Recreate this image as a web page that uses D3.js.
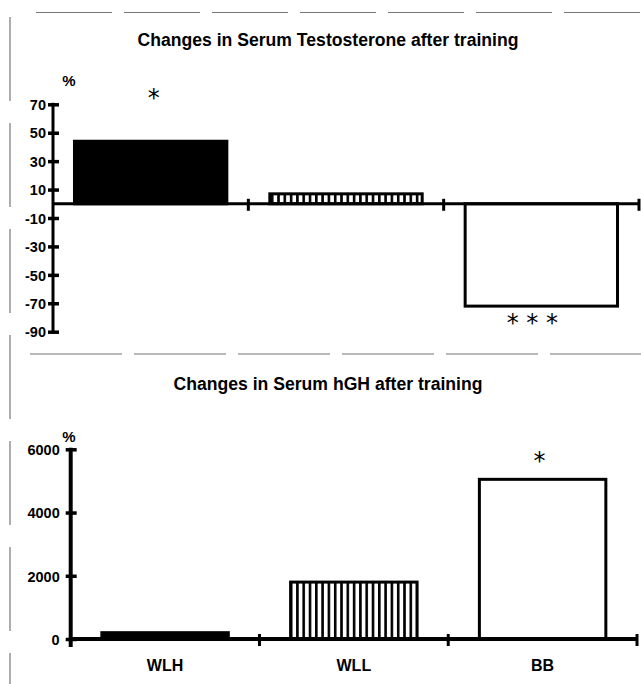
<!DOCTYPE html>
<html lang="en">
  <head>
    <meta charset="UTF-8" />
    <title>Changes in Serum Testosterone and hGH after training</title>
    <style>
      body {
        margin: 0;
        background: #fff;
      }
      svg text {
        font-family: "Liberation Sans", Arial, sans-serif;
        font-weight: bold;
        fill: #000;
      }
    </style>
  </head>
  <body>
    <div id="chart"></div>

    <script src="https://cdn.jsdelivr.net/npm/d3@7"></script>

    <script>
      ///////////////////////////////////////////////////////////////////////////
      //////////////////////////////// Data /////////////////////////////////////
      ///////////////////////////////////////////////////////////////////////////

      var categories = ["WLH", "WLL", "BB"];
      var testosterone = [44, 7, -72]; // % change
      var hgh = [200, 1800, 5050]; // % change
      var testoTicks = [70, 50, 30, 10, -10, -30, -50, -70, -90];
      var hghTicks = [0, 2000, 4000, 6000];
      var fills = ["#000", "url(#vhatch)", "#fff"];

      //significance marks: which bar, text, value where it sits
      var testoStars = [
        { cat: "WLH", text: "*", v: 78, dx: 3 },
        { cat: "BB", text: "* * *", v: -80, dx: -9 }
      ];
      var hghStars = [{ cat: "BB", text: "*", v: 5800, dx: -3 }];

      var width = 641,
        height = 684;

      var svg = d3
        .select("#chart")
        .append("svg")
        .attr("width", width)
        .attr("height", height);

      //vertical hatch for the middle bar
      svg
        .append("defs")
        .append("pattern")
        .attr("id", "vhatch")
        .attr("patternUnits", "userSpaceOnUse")
        .attr("width", 6.3)
        .attr("height", 10)
        .call(function(p) {
          p.append("rect")
            .attr("width", 6.3)
            .attr("height", 10)
            .attr("fill", "#fff");
          p.append("rect")
            .attr("x", 0)
            .attr("width", 2.6)
            .attr("height", 10)
            .attr("fill", "#000");
        });

      ///////////////////////////////////////////////////////////////////////////
      ///////////////////////// Scanned page frame lines ////////////////////////
      ///////////////////////////////////////////////////////////////////////////

      var frame = svg
        .append("g")
        .attr("stroke", "#777")
        .attr("stroke-width", 1.2)
        .attr("fill", "none");
      frame
        .append("line")
        .attr("x1", 36).attr("x2", 641)
        .attr("y1", 12.5).attr("y2", 12.5)
        .attr("stroke-dasharray", "76,12");
      frame
        .append("line")
        .attr("x1", 30).attr("x2", 641)
        .attr("y1", 354).attr("y2", 354)
        .attr("stroke-dasharray", "92,12");
      frame
        .append("line")
        .attr("x1", 10).attr("x2", 10)
        .attr("y1", 17).attr("y2", 684)
        .attr("stroke-dasharray", "84,22");

      ///////////////////////////////////////////////////////////////////////////
      ////////////////////////// Generic bar panel //////////////////////////////
      ///////////////////////////////////////////////////////////////////////////

      function panel(opt) {
        var g = svg.append("g");

        var x = d3
          .scaleBand()
          .domain(categories)
          .range([opt.x0, opt.x1])
          .paddingInner(opt.pad)
          .paddingOuter(opt.pad / 2);

        var y = d3
          .scaleLinear()
          .domain(opt.domain)
          .range([opt.yBottom, opt.yTop]);

        //title
        g.append("text")
          .attr("x", 328)
          .attr("y", opt.titleY)
          .attr("text-anchor", "middle")
          .style("font-size", "17.6px")
          .text(opt.title);

        g.append("text")
          .attr("x", 69)
          .attr("y", opt.pctY)
          .attr("text-anchor", "middle")
          .style("font-size", "15px")
          .text("%");

        //bars
        var rows = categories.map(function(c, i) {
          return { cat: c, v: opt.values[i], fill: fills[i] };
        });
        g.selectAll(".bar")
          .data(rows)
          .enter()
          .append("rect")
          .attr("class", "bar")
          .attr("x", function(d) { return x(d.cat); })
          .attr("width", x.bandwidth())
          .attr("y", function(d) { return y(Math.max(0, d.v)); })
          .attr("height", function(d) { return Math.abs(y(d.v) - y(0)); })
          .attr("fill", function(d) { return d.fill; })
          .attr("stroke", "#000")
          .attr("stroke-width", 3);

        //y axis
        var yAxis = g
          .append("g")
          .attr("transform", "translate(" + opt.x0 + ",0)")
          .call(
            d3.axisLeft(y)
              .tickValues(opt.ticks)
              .tickFormat(function(d) { return String(d); })
              .tickSizeInner(5)
              .tickSizeOuter(0)
              .tickPadding(opt.tickPad)
          );
        yAxis.select(".domain").remove();
        yAxis.selectAll(".tick line")
          .attr("x1", -5)
          .attr("x2", 6)
          .attr("stroke", "#000")
          .attr("stroke-width", 3.5);
        yAxis.selectAll(".tick text")
          .attr("dy", "0.36em")
          .style("font-size", "14.5px")
          .style("font-family", "'Liberation Sans', Arial, sans-serif");
        g.append("line")
          .attr("x1", opt.x0).attr("x2", opt.x0)
          .attr("y1", y(opt.domain[1]) - 1.5)
          .attr("y2", opt.yAxisEnd)
          .attr("stroke", "#000")
          .attr("stroke-width", opt.axisW);

        //x axis line at zero with category boundary ticks
        g.append("line")
          .attr("x1", opt.x0).attr("x2", opt.x1)
          .attr("y1", y(0)).attr("y2", y(0))
          .attr("stroke", "#000")
          .attr("stroke-width", opt.axisW);
        g.selectAll(".xtick")
          .data(categories)
          .enter()
          .append("line")
          .attr("class", "xtick")
          .attr("x1", function(d, i) { return opt.x0 + x.step() * (i + 1); })
          .attr("x2", function(d, i) { return opt.x0 + x.step() * (i + 1); })
          .attr("y1", y(0) - 5)
          .attr("y2", y(0) + 7)
          .attr("stroke", "#000")
          .attr("stroke-width", 3);

        //category labels
        if (opt.showLabels) {
          g.selectAll(".xlab")
            .data(categories)
            .enter()
            .append("text")
            .attr("class", "xlab")
            .attr("x", function(d) { return x(d) + x.bandwidth() / 2; })
            .attr("y", opt.labelY)
            .attr("text-anchor", "middle")
            .style("font-size", "16px")
            .text(function(d) { return d; });
        }

        //significance stars
        g.selectAll(".star")
          .data(opt.stars)
          .enter()
          .append("text")
          .attr("class", "star")
          .attr("x", function(d) { return x(d.cat) + x.bandwidth() / 2 + d.dx; })
          .attr("y", function(d) { return y(d.v); })
          .attr("dy", "0.55em")
          .attr("text-anchor", "middle")
          .style("font-family", "'DejaVu Sans', sans-serif")
          .style("font-size", "24px")
          .style("font-weight", "normal")
          .text(function(d) { return d.text; });
      }

      ///////////////////////////////////////////////////////////////////////////
      //////////////////////////////// Panels ///////////////////////////////////
      ///////////////////////////////////////////////////////////////////////////

      panel({
        title: "Changes in Serum Testosterone after training",
        titleY: 46,
        pctY: 86,
        values: testosterone,
        ticks: testoTicks,
        domain: [-90, 70],
        yBottom: 331.7,
        yTop: 104.3,
        yAxisEnd: 333,
        x0: 53,
        x1: 639,
        pad: 0.22,
        axisW: 3,
        tickPad: 2,
        showLabels: false,
        stars: testoStars
      });

      panel({
        title: "Changes in Serum hGH after training",
        titleY: 390,
        pctY: 442,
        values: hgh,
        ticks: hghTicks,
        domain: [0, 6000],
        yBottom: 639,
        yTop: 449.3,
        yAxisEnd: 647,
        x0: 70.7,
        x1: 637,
        pad: 0.33,
        axisW: 4,
        tickPad: 6,
        showLabels: true,
        labelY: 671,
        stars: hghStars
      });
    </script>
  </body>
</html>
